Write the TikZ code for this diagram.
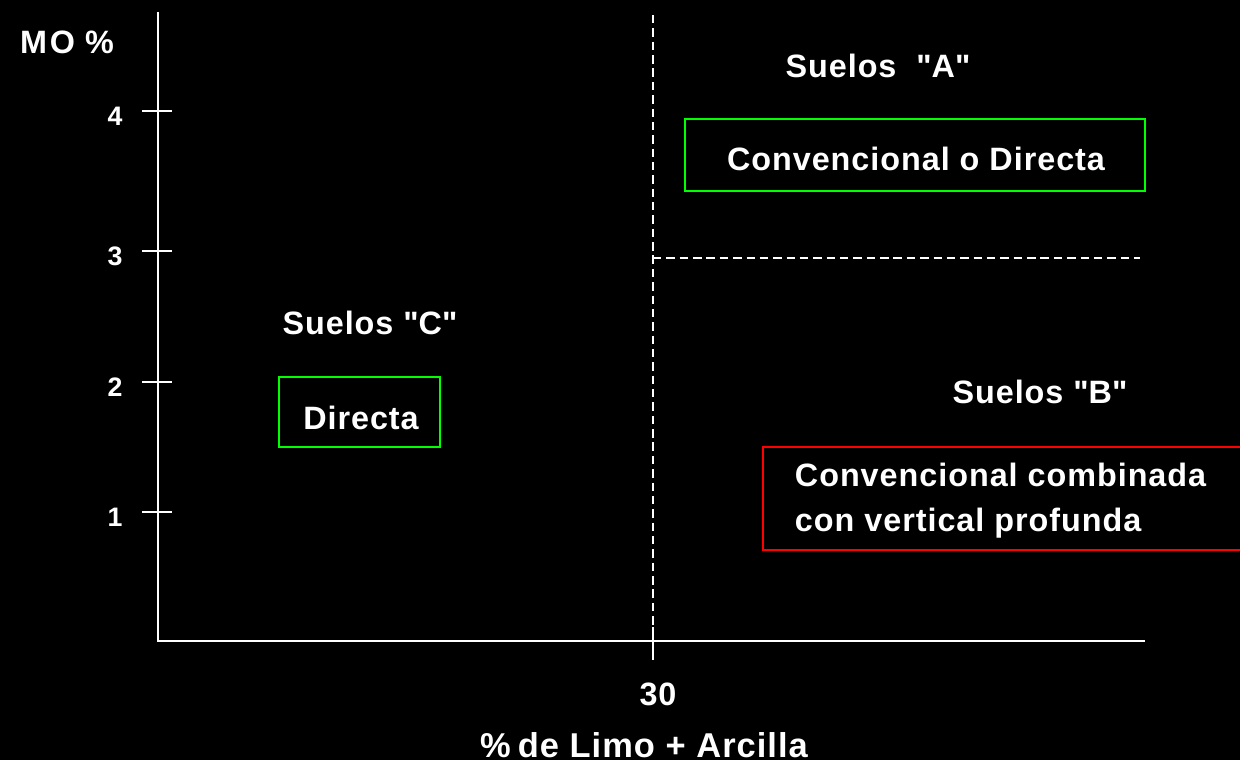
\documentclass[tikz,border=0pt]{standalone}
\usepackage{fontspec}
\setmainfont{Liberation Sans}
\newfontfamily\lblfont{Liberation Sans}[LetterSpace=3]
\usetikzlibrary{positioning}
\newcommand{\qt}{\textquotedbl}
\begin{document}
\begin{tikzpicture}[x=0.025cm, y=-0.025cm,
    lbl/.style={white, font=\lblfont\fontsize{23}{32}\selectfont\bfseries},
    num/.style={white, font=\fontsize{19}{22}\selectfont\bfseries},
    axis/.style={white, line width=2pt},
    guide/.style={white, line width=1.1pt, dash pattern=on 6pt off 3.5pt},
    greenbox/.style={draw=green, line width=2pt, inner sep=0pt},
    redbox/.style={draw=red, line width=2pt, inner sep=0pt}]
    \fill[black] (0,0) rectangle (1240,760);
    \useasboundingbox (0,0) rectangle (1240,760);
    \coordinate (o) at (158,641);
    \coordinate (ytop) at (158,12);
    \coordinate (xend) at (1145,641);
    \coordinate (vtop) at (653,15);
    \coordinate (vbot) at (653,641);
    \coordinate (hleft) at (653,258);
    \coordinate (hright) at (1140,258);
    \draw[axis] (ytop) -- (o) -- (xend);
    \foreach \v/\y in {4/111, 3/251, 2/382, 1/512} {
        \draw[axis] (142,\y) -- (172,\y);
        \node[num] (t\v) at (115,\y+5) {\v};
    }
    \draw[axis] (653,627) -- (653,660);
    \draw[guide] (vtop) -- (vbot);
    \draw[guide] (hleft) -- (hright);
    \node[lbl] (mo) at (67,42) {M\kern2pt O \%};
    \node[lbl] (x30) at (658,694) {30};
    \node[lbl, font=\lblfont\fontsize{24.5}{30}\selectfont\bfseries] (xlab) at (644,745) {\%\kern5pt de Limo + Arcilla};
    \node[lbl] (sa) at (878,66) {Suelos \ \qt A\qt};
    \node[lbl] (sc) at (370,323) {Suelos \qt C\qt};
    \node[lbl] (sb) at (1040,392) {Suelos \qt B\qt};
    \node[greenbox, minimum width=11.5cm, minimum height=1.8cm] (ba) at (915,155) {};
    \node[lbl] (ta) at (916,159) {Convencional o Directa};
    \node[greenbox, minimum width=4.025cm, minimum height=1.75cm] (bc) at (359.5,412) {};
    \node[lbl] (tc) at (361,418) {Directa};
    \node[redbox, minimum width=12.425cm, minimum height=2.575cm] (bb) at (1011.5,498.5) {};
    \node[lbl, anchor=west, align=left] (tb) at (790,501) {Convencional combinada\\con vertical profunda};
\end{tikzpicture}
\end{document}
